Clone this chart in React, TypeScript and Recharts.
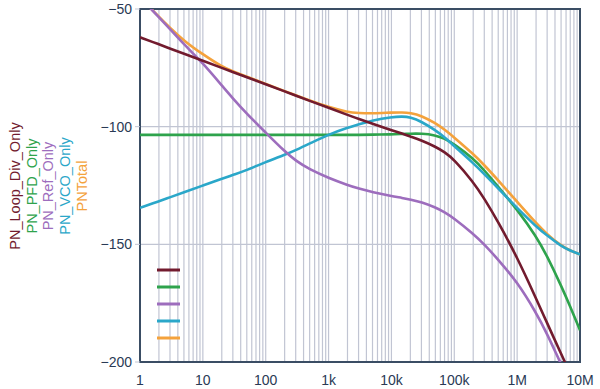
import { LineChart, Line, XAxis, YAxis, CartesianGrid, ReferenceArea } from 'recharts'

// offset frequency (Hz) and phase noise (dBc/Hz) per contributor
const freqs = [1, 2, 3, 5, 10, 20, 30, 50, 100, 200, 300, 500, 1e3, 2e3, 3e3, 5e3, 1e4, 1.5e4, 2e4, 3e4, 5e4, 7e4, 1e5, 2e5, 3e5, 5e5, 1e6, 2e6, 3e6, 5e6, 7e6, 1e7]
const loopDiv = [-62, -65, -66.8, -69, -72, -75, -76.8, -79, -82, -85, -86.8, -89, -92, -95, -96.7, -98.8, -101.5, -103, -104.2, -105.8, -108.5, -110.8, -114, -123.5, -130.5, -140.5, -155.5, -173, -183.5, -196.5, -205, -214]
const pfd = [-103.5, -103.5, -103.5, -103.5, -103.5, -103.5, -103.5, -103.5, -103.5, -103.5, -103.5, -103.5, -103.5, -103.5, -103.5, -103.4, -103.3, -103.1, -103, -102.9, -103.6, -105, -107.5, -113.5, -118.5, -125.5, -135.2, -146.5, -155, -167.5, -176.5, -186.5]
const ref = [-45, -53.5, -58.5, -65, -73, -82.5, -88, -94.5, -102.5, -110.5, -114.5, -118.2, -121.8, -124.8, -126.3, -127.8, -129.5, -130.3, -131, -132, -134.3, -136.3, -139, -145.5, -150, -156.5, -166, -179, -188, -201, -209, -218]
const vco = [-134.5, -131.7, -130, -127.9, -125, -122.2, -120.5, -118.5, -115, -112, -110, -107.2, -103.3, -100.5, -99, -97.3, -95.9, -95.6, -96, -97.8, -101.5, -104.5, -108.3, -115.5, -120.1, -126.2, -134.6, -142.4, -146.3, -150.7, -152.7, -154.3]
const total = [-45, -53.3, -58, -63.5, -69.3, -74.5, -76.5, -78.8, -81.8, -84.9, -86.7, -88.9, -91.7, -93.8, -94.2, -94.4, -94, -93.9, -94.2, -95.3, -98.5, -101.2, -104.6, -111.6, -116.3, -122.8, -131.9, -141, -145.8, -150.6, -152.7, -154.3]

const decadeTicks = [1, 10, 100, 1e3, 1e4, 1e5, 1e6, 1e7]
const decadeLabels = ['1', '10', '100', '1k', '10k', '100k', '1M', '10M']
const yTicks = [-200, -150, -100, -50]

// all 1..9 x 10^n positions for the log grid
const gridTicks: number[] = []
decadeTicks.forEach((d, i) => {
  if (i === decadeTicks.length - 1) { gridTicks.push(d); return }
  for (let m = 1; m < 10; m++) gridTicks.push(m * d)
})

const series = [
  { key: 'loopDiv', name: 'PN_Loop_Div_Only', color: '#721b2e', values: loopDiv },
  { key: 'pfd', name: 'PN_PFD_Only', color: '#2ea34c', values: pfd },
  { key: 'ref', name: 'PN_Ref_Only', color: '#9d6dbd', values: ref },
  { key: 'vco', name: 'PN_VCO_Only', color: '#2aa7c9', values: vco },
  { key: 'total', name: 'PNTotal', color: '#f4a23c', values: total },
]

const data = freqs.map((f, i) => {
  const row: Record<string, number> = { f }
  series.forEach(s => { row[s.key] = s.values[i] })
  return row
})

// draw order: total underneath, loop divider on top
const drawOrder = ['total', 'pfd', 'vco', 'ref', 'loopDiv']

const fmtX = (v: number) => {
  const i = decadeTicks.indexOf(v)
  return i >= 0 ? decadeLabels[i] : ''
}
const fmtY = (v: number) => String(v).replace('-', '\u2212')

const tickStyle = { fontSize: 14, fill: '#2a3a55', fontFamily: '"Liberation Sans", Arial, sans-serif' }

export default function App() {
  return (
    <div style={{ position: 'absolute', left: 0, top: 0, width: 600, height: 389, background: '#fff' }}>
      <LineChart width={600} height={389} data={data} margin={{ top: 9, right: 20, left: 100, bottom: 7 }}>
        <CartesianGrid stroke="#c1c5d3" strokeWidth={1.2} />
        <XAxis dataKey="f" type="number" scale="log" domain={[1, 1e7]} allowDataOverflow
               ticks={gridTicks} interval={0} tickFormatter={fmtX} tickLine={false}
               axisLine={false} tickSize={8} tickMargin={5} height={20} tick={tickStyle} />
        <YAxis type="number" domain={[-200, -50]} allowDataOverflow ticks={yTicks} width={40}
               tickFormatter={fmtY} axisLine={false} tickLine={{ stroke: '#c1c5d3' }}
               tickSize={5} tickMargin={3} tick={tickStyle} />
        {drawOrder.map(k => {
          const s = series.find(x => x.key === k)!
          return (
            <Line key={k} dataKey={k} name={s.name} type="basis" stroke={s.color}
                  strokeWidth={2.6} dot={false} isAnimationActive={false} />
          )
        })}
        <ReferenceArea x1={1} x2={1e7} y1={-200} y2={-50} fill="none" fillOpacity={0}
                       stroke="#3a4d64" strokeWidth={2} />
      </LineChart>

      {/* legend: rotated labels left of the axis, swatches inside the plot */}
      <svg width={600} height={389} style={{ position: 'absolute', left: 0, top: 0, pointerEvents: 'none' }}>
        {series.map((s, i) => {
          const cx = 15 + i * 16.7
          return (
            <text key={s.key} x={cx} y={186} transform={`rotate(-90 ${cx} 186)`}
                  textAnchor="middle" dominantBaseline="central" fill={s.color}
                  fontSize={14.5} fontFamily='"Liberation Sans", Arial, sans-serif'>
              {s.name}
            </text>
          )
        })}
        {series.map((s, i) => (
          <line key={s.key} x1={157} x2={180} y1={270 + i * 17} y2={270 + i * 17}
                stroke={s.color} strokeWidth={3} />
        ))}
      </svg>
    </div>
  )
}
